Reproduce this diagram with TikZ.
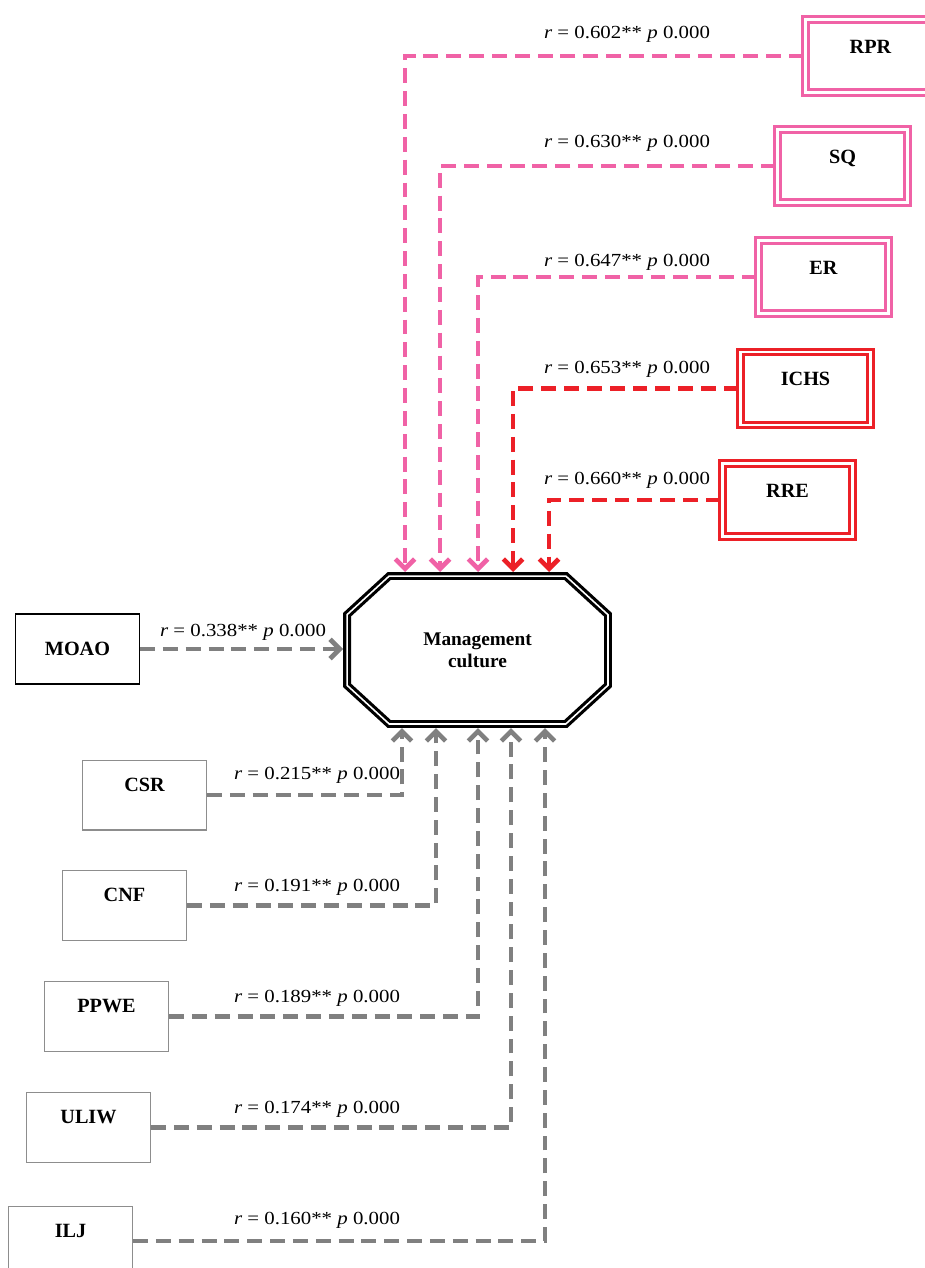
\documentclass[tikz,border=0pt]{standalone}
\usepackage{fontspec}
\setmainfont{Liberation Serif}
\newfontfamily\labfont[FakeStretch=1.13]{Liberation Serif}
\usetikzlibrary{arrows.meta}

\definecolor{pinkc}{RGB}{240,98,166}
\definecolor{redc}{RGB}{236,32,39}
\definecolor{greyc}{RGB}{128,128,128}

\tikzset{
  boxfont/.style={font=\fontsize{11.5}{13}\selectfont\bfseries},
  topbox/.style={draw=#1, double=white, line width=1.9pt, double distance=1.2pt,
    inner xsep=0pt, inner ysep=0pt, minimum width=74pt, text height=19.1pt, text depth=22.4pt, boxfont},
  leftbox/.style={draw=greyc!90, line width=0.8pt, inner xsep=0pt, inner ysep=0pt,
    minimum width=70.4pt, text height=17.6pt, text depth=22pt, boxfont},
  conn/.style={draw=#1, line width=2.7pt, dash pattern=on 8.5pt off 4.5pt, shorten >=2.3pt,
    -{Straight Barb[length=5.5pt, width=11pt]}},
  lab/.style={font=\labfont\fontsize{10.5}{12}\selectfont, inner sep=0pt},
  octline/.style={draw, double=white, line width=1.8pt, double distance=0.9pt, line join=miter},
}

\begin{document}
\begin{tikzpicture}[x=0.02cm, y=-0.02cm]
  \useasboundingbox (0,0) rectangle (925,1268);
  % Central construct
  \node[minimum width=148.5pt, minimum height=84.2pt, outer sep=0pt, align=center,
    font=\fontsize{11}{12.5}\selectfont\bfseries] (mc) at (477.5,650) {Management\\culture};
  \draw[octline] ([xshift=24pt]mc.north west) -- ([xshift=-24pt]mc.north east)
    -- ([yshift=-22pt]mc.north east) -- ([yshift=22pt]mc.south east)
    -- ([xshift=-24pt]mc.south east) -- ([xshift=24pt]mc.south west)
    -- ([yshift=22pt]mc.south west) -- ([yshift=-22pt]mc.north west) -- cycle;
  % Upper factors (strongest correlations)
  \foreach \n/\lbl/\cx/\cy/\ax/\ly/\rv/\col in {
      rpr/RPR/870.5/56/405/34/0.602/pinkc,
      sq/SQ/842.5/166/440/143/0.630/pinkc,
      er/ER/823.5/277/478/262/0.647/pinkc,
      ichs/ICHS/805.5/388.5/513/369/0.653/redc,
      rre/RRE/787.5/500/549/480/0.660/redc}
    {\node[topbox=\col] (\n) at (\cx,\cy) {\lbl};
     \draw[conn=\col] (\n.west) -| (\ax,0 |- mc.north);
     \node[lab] (l-\n) at (627,\ly) {\textit{r} = \rv** \textit{p} 0.000};}
  % Direct link
  \node[draw, line width=0.8pt, inner sep=0pt, minimum width=70.4pt, minimum height=40pt, boxfont]
    (moao) at (77.5,649) {MOAO};
  \draw[conn=greyc] (moao.east) -- (moao.east -| mc.west);
  \node[lab] (l-moao) at (243,632) {\textit{r} = 0.338** \textit{p} 0.000};
  % Lower factors
  \foreach \n/\lbl/\cx/\cy/\ax/\ly/\rv in {
      csr/CSR/144.5/795/402/775/0.215,
      cnf/CNF/124.5/905.5/436/887/0.191,
      ppwe/PPWE/106.5/1016.5/478/998/0.189,
      uliw/ULIW/88.5/1127.5/511/1109/0.174,
      ilj/ILJ/70.5/1241/545/1220/0.160}
    {\node[leftbox] (\n) at (\cx,\cy) {\lbl};
     \draw[conn=greyc] (\n.east) -| (\ax,0 |- mc.south);
     \node[lab] (l-\n) at (317,\ly) {\textit{r} = \rv** \textit{p} 0.000};}
\end{tikzpicture}
\end{document}
